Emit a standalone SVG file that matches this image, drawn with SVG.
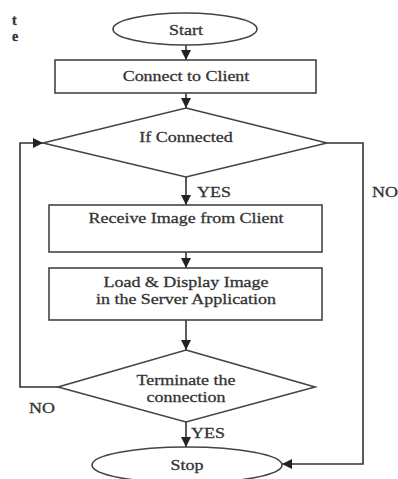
<svg xmlns="http://www.w3.org/2000/svg" width="398" height="479" viewBox="0 0 398 479">
<defs>
<marker id="ah" viewBox="0 0 10 10" refX="10" refY="5" markerWidth="10" markerHeight="10" markerUnits="userSpaceOnUse" orient="auto">
<path d="M0,0 L10,5 L0,10 Z" fill="#222"/>
</marker>
</defs>
<style>
.sh{fill:#fff;stroke:#444;stroke-width:1.6}
.t{font-family:"Liberation Serif","Times New Roman",serif;font-size:15.5px;fill:#333;stroke:#333;stroke-width:0.3;text-anchor:middle}
.l{font-family:"Liberation Serif","Times New Roman",serif;font-size:15.5px;fill:#333;stroke:#333;stroke-width:0.3}
.c{fill:none;stroke:#333;stroke-width:1.6}
</style>
<rect width="398" height="479" fill="#fff"/>
<g id="fragments">
<text class="l" x="12" y="25" style="font-weight:bold;font-size:14px">t</text>
<text class="l" x="12" y="41" style="font-weight:bold;font-size:14px">e</text>
</g>
<g id="connectors">
<line class="c" x1="186" y1="45" x2="186" y2="60" marker-end="url(#ah)"/>
<line class="c" x1="186" y1="93" x2="186" y2="108" marker-end="url(#ah)"/>
<line class="c" x1="186" y1="177" x2="186" y2="205" marker-end="url(#ah)"/>
<line class="c" x1="186" y1="252" x2="186" y2="268" marker-end="url(#ah)"/>
<line class="c" x1="186" y1="320" x2="186" y2="350" marker-end="url(#ah)"/>
<line class="c" x1="186" y1="422" x2="186" y2="447" marker-end="url(#ah)"/>
<polyline class="c" points="58,387 20,387 20,143 43,143" marker-end="url(#ah)"/>
<polyline class="c" points="327,143 363,143 363,464 282,464" marker-end="url(#ah)"/>
<g transform="translate(197,0) scale(1.16,1)"><text class="l" x="0" y="197">YES</text></g>
<g transform="translate(372,0) scale(1.16,1)"><text class="l" x="0" y="197">NO</text></g>
<g transform="translate(29,0) scale(1.16,1)"><text class="l" x="0" y="413">NO</text></g>
<g transform="translate(191,0) scale(1.16,1)"><text class="l" x="0" y="438">YES</text></g>
</g>
<g id="start">
<ellipse class="sh" cx="185" cy="29" rx="72" ry="16"/>
<g transform="translate(186,0) scale(1.16,1)"><text class="t" x="0" y="35">Start</text></g>
</g>
<g id="connect">
<rect class="sh" x="55" y="60" width="261" height="33"/>
<g transform="translate(186,0) scale(1.16,1)"><text class="t" x="0" y="81">Connect to Client</text></g>
</g>
<g id="ifconnected">
<polygon class="sh" points="186,108 327,143 186,177 43,143"/>
<g transform="translate(186,0) scale(1.16,1)"><text class="t" x="0" y="142">If Connected</text></g>
</g>
<g id="receive">
<rect class="sh" x="49" y="205" width="273" height="47"/>
<g transform="translate(186,0) scale(1.16,1)"><text class="t" x="0" y="223">Receive Image from Client</text></g>
</g>
<g id="load">
<rect class="sh" x="49" y="268" width="273" height="52"/>
<g transform="translate(186,0) scale(1.16,1)"><text class="t" x="0" y="287">Load &amp; Display Image</text>
<text class="t" x="0" y="304">in the Server Application</text></g>
</g>
<g id="terminate">
<polygon class="sh" points="186,350 315,387 186,422 58,387"/>
<g transform="translate(186,0) scale(1.16,1)"><text class="t" x="0" y="385">Terminate the</text>
<text class="t" x="0" y="402">connection</text></g>
</g>
<g id="stop">
<ellipse class="sh" cx="187" cy="465" rx="95" ry="18"/>
<g transform="translate(187,0) scale(1.16,1)"><text class="t" x="0" y="470">Stop</text></g>
</g>
</svg>
